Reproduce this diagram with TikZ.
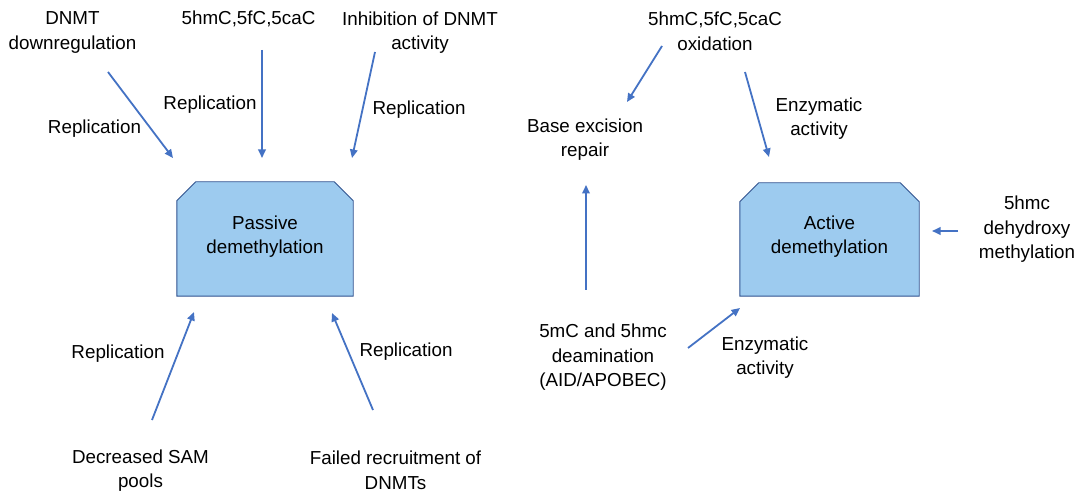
\documentclass[tikz,border=0pt]{standalone}
\usepackage{fontspec}
\setmainfont{Liberation Sans}
\usetikzlibrary{arrows.meta}
\definecolor{boxfill}{RGB}{157,203,239}
\definecolor{boxline}{RGB}{47,82,143}
\definecolor{arrowblue}{RGB}{68,114,196}
\tikzset{
  lbl/.style={align=center, inner sep=0pt, yshift=-3.5pt, font=\fontsize{18.8}{24.5}\selectfont},
  procbox/.style={rectangle, inner sep=0pt, minimum width=176pt, minimum height=114pt},
  boxshape/.style={draw=boxline, fill=boxfill, line width=0.9pt, line join=miter},
  flow/.style={draw=arrowblue, line width=1.8pt, -{Triangle[length=8.5pt,width=7.5pt]}}
}
% chamfered outline (top corners cut) around a box node
\newcommand{\chamferbox}[1]{%
  \path[boxshape] (#1.south west) -- ([yshift=-19pt]#1.north west)
    -- ([xshift=19pt]#1.north west) -- ([xshift=-19pt]#1.north east)
    -- ([yshift=-19pt]#1.north east) -- (#1.south east) -- cycle;}
\begin{document}
\begin{tikzpicture}[x=1pt,y=-1pt]
\path[use as bounding box, fill=white] (0,0) rectangle (1084,494);

% process boxes
\node[procbox] (passive) at (265,239) {};
\chamferbox{passive}
\node[lbl] (passiveTxt) at (265,233) {Passive\\demethylation};
\node[procbox, minimum width=179pt, minimum height=113pt] (active) at (829.5,239.5) {};
\chamferbox{active}
\node[lbl] (activeTxt) at (829.5,233) {Active\\demethylation};

% passive demethylation: causes
\node[lbl] (dnmtDown) at (72.5,29) {DNMT\\downregulation};
\node[lbl] (oxProducts) at (248.5,15.5) {5hmC,5fC,5caC};
\node[lbl] (inhib) at (420,29) {Inhibition of DNMT\\activity};
\node[lbl] (sam) at (140.5,467) {Decreased SAM\\pools};
\node[lbl] (recruit) at (395.5,467) {Failed recruitment of\\DNMTs};

\node[lbl] (rep1) at (94.5,125) {Replication};
\node[lbl] (rep2) at (210,101) {Replication};
\node[lbl] (rep3) at (419,106) {Replication};
\node[lbl] (rep4) at (118,350) {Replication};
\node[lbl] (rep5) at (406,348) {Replication};

% active demethylation: routes
\node[lbl] (oxid) at (715,28) {5hmC,5fC,5caC\\oxidation};
\node[lbl] (ber) at (585,136) {Base excision\\repair};
\node[lbl] (enz1) at (819,115) {Enzymatic\\activity};
\node[lbl] (dehyd) at (1027,226) {5hmc\\dehydroxy\\methylation};
\node[lbl] (deam) at (603,354) {5mC and 5hmc\\deamination\\(AID/APOBEC)};
\node[lbl] (enz2) at (765,354) {Enzymatic\\activity};

% arrow end points
\coordinate (a1s) at (108,72);  \coordinate (a1e) at (173,158);
\coordinate (a2s) at (262,50);  \coordinate (a2e) at (262,158);
\coordinate (a3s) at (375,52);  \coordinate (a3e) at (352,158);
\coordinate (a4s) at (152,420); \coordinate (a4e) at (194,312);
\coordinate (a5s) at (373,410); \coordinate (a5e) at (332,313);
\coordinate (a6s) at (662,46);  \coordinate (a6e) at (627,102);
\coordinate (a7s) at (745,72);  \coordinate (a7e) at (769,157);
\coordinate (a8s) at (586,290); \coordinate (a8e) at (586,185);
\coordinate (a9s) at (688,348); \coordinate (a9e) at (740,308);
\coordinate (a10s) at (958,231); \coordinate (a10e) at (932,231);

\draw[flow] (a1s) -- (a1e);
\draw[flow] (a2s) -- (a2e);
\draw[flow] (a3s) -- (a3e);
\draw[flow] (a4s) -- (a4e);
\draw[flow] (a5s) -- (a5e);
\draw[flow] (a6s) -- (a6e);
\draw[flow] (a7s) -- (a7e);
\draw[flow] (a8s) -- (a8e);
\draw[flow] (a9s) -- (a9e);
\draw[flow] (a10s) -- (a10e);
\end{tikzpicture}
\end{document}
